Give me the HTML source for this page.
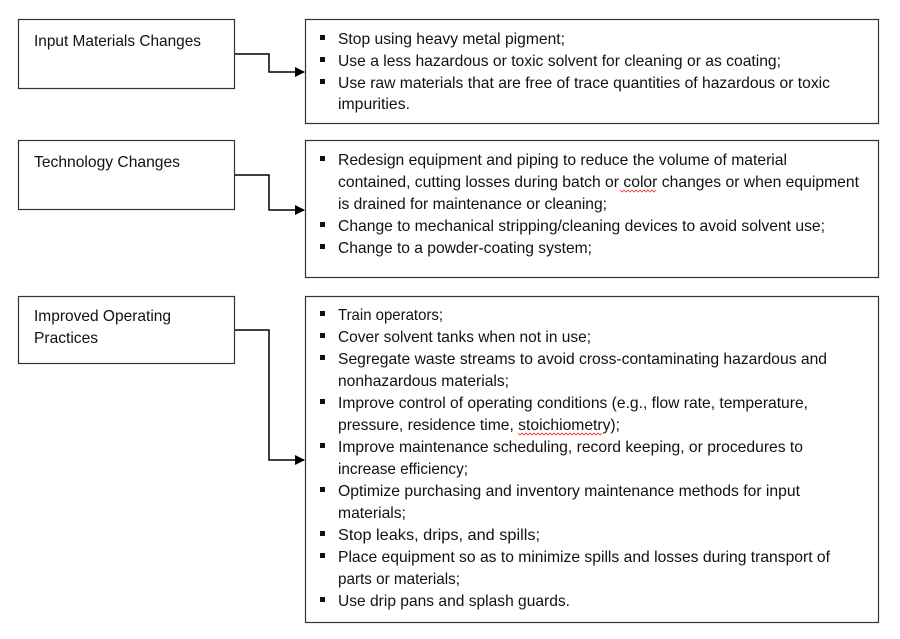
<!DOCTYPE html>
<html><head><meta charset="utf-8"><style>
html,body{margin:0;padding:0;background:#fff;}
svg{display:block;}
text{font-family:"Liberation Sans",Arial,sans-serif;font-size:16px;fill:#111;}
</style></head><body>
<svg width="900" height="639" viewBox="0 0 900 639" xmlns="http://www.w3.org/2000/svg">
<defs><marker id="a" markerWidth="10" markerHeight="10" refX="9" refY="5" orient="auto" markerUnits="userSpaceOnUse"><path d="M0,0 L10,5 L0,10 z" fill="#000"/></marker></defs>
<g fill="#fff" stroke="#333" stroke-width="1.2">
<rect x="18.5" y="19.5" width="216" height="69"/>
<rect x="18.5" y="140.5" width="216" height="69"/>
<rect x="18.5" y="296.5" width="216" height="67"/>
<rect x="305.5" y="19.5" width="573" height="104"/>
<rect x="305.5" y="140.5" width="573" height="137"/>
<rect x="305.5" y="296.5" width="573" height="326"/>
</g>
<g fill="none" stroke="#000" stroke-width="1.5">
<path d="M235,54 H269 V72 H304" marker-end="url(#a)"/>
<path d="M235,175 H269 V210 H304" marker-end="url(#a)"/>
<path d="M235,330 H269 V460 H304" marker-end="url(#a)"/>
</g>
<g>
<text x="34" y="46" textLength="167" lengthAdjust="spacingAndGlyphs">Input Materials Changes</text>
<text x="34" y="167" textLength="146" lengthAdjust="spacingAndGlyphs">Technology Changes</text>
<text x="34" y="321" textLength="137" lengthAdjust="spacingAndGlyphs">Improved Operating</text>
<text x="34" y="343" textLength="64" lengthAdjust="spacingAndGlyphs">Practices</text>
</g>
<g fill="#111">
<rect x="320" y="35" width="5" height="5"/><rect x="320" y="57" width="5" height="5"/><rect x="320" y="79" width="5" height="5"/>
<rect x="320" y="156" width="5" height="5"/><rect x="320" y="222" width="5" height="5"/><rect x="320" y="244" width="5" height="5"/>
<rect x="320" y="311" width="5" height="5"/><rect x="320" y="333" width="5" height="5"/><rect x="320" y="355" width="5" height="5"/>
<rect x="320" y="399" width="5" height="5"/><rect x="320" y="443" width="5" height="5"/><rect x="320" y="487" width="5" height="5"/>
<rect x="320" y="531" width="5" height="5"/><rect x="320" y="553" width="5" height="5"/><rect x="320" y="597" width="5" height="5"/>
</g>
<g>
<text x="338" y="44" textLength="227" lengthAdjust="spacingAndGlyphs">Stop using heavy metal pigment;</text>
<text x="338" y="66" textLength="443" lengthAdjust="spacingAndGlyphs">Use a less hazardous or toxic solvent for cleaning or as coating;</text>
<text x="338" y="88" textLength="492" lengthAdjust="spacingAndGlyphs">Use raw materials that are free of trace quantities of hazardous or toxic</text>
<text x="338" y="109" textLength="72" lengthAdjust="spacingAndGlyphs">impurities.</text>

<text x="338" y="165" textLength="449" lengthAdjust="spacingAndGlyphs">Redesign equipment and piping to reduce the volume of material</text>
<text x="338" y="187" textLength="521" lengthAdjust="spacingAndGlyphs">contained, cutting losses during batch or color changes or when equipment</text>
<text x="338" y="209" textLength="269" lengthAdjust="spacingAndGlyphs">is drained for maintenance or cleaning;</text>
<text x="338" y="231" textLength="487" lengthAdjust="spacingAndGlyphs">Change to mechanical stripping/cleaning devices to avoid solvent use;</text>
<text x="338" y="253" textLength="254" lengthAdjust="spacingAndGlyphs">Change to a powder-coating system;</text>

<text x="338" y="320" textLength="105" lengthAdjust="spacingAndGlyphs">Train operators;</text>
<text x="338" y="342" textLength="253" lengthAdjust="spacingAndGlyphs">Cover solvent tanks when not in use;</text>
<text x="338" y="364" textLength="489" lengthAdjust="spacingAndGlyphs">Segregate waste streams to avoid cross-contaminating hazardous and</text>
<text x="338" y="386" textLength="171" lengthAdjust="spacingAndGlyphs">nonhazardous materials;</text>
<text x="338" y="408" textLength="470" lengthAdjust="spacingAndGlyphs">Improve control of operating conditions (e.g., flow rate, temperature,</text>
<text x="338" y="430" textLength="282" lengthAdjust="spacingAndGlyphs">pressure, residence time, stoichiometry);</text>
<text x="338" y="452" textLength="465" lengthAdjust="spacingAndGlyphs">Improve maintenance scheduling, record keeping, or procedures to</text>
<text x="338" y="474" textLength="130" lengthAdjust="spacingAndGlyphs">increase efficiency;</text>
<text x="338" y="496" textLength="462" lengthAdjust="spacingAndGlyphs">Optimize purchasing and inventory maintenance methods for input</text>
<text x="338" y="518" textLength="68" lengthAdjust="spacingAndGlyphs">materials;</text>
<text x="338" y="540" textLength="202" lengthAdjust="spacingAndGlyphs">Stop leaks, drips, and spills;</text>
<text x="338" y="562" textLength="492" lengthAdjust="spacingAndGlyphs">Place equipment so as to minimize spills and losses during transport of</text>
<text x="338" y="584" textLength="122" lengthAdjust="spacingAndGlyphs">parts or materials;</text>
<text x="338" y="606" textLength="232" lengthAdjust="spacingAndGlyphs">Use drip pans and splash guards.</text>
</g>
<g fill="none" stroke="#e33" stroke-width="0.8">
<path d="M620,190 l2,2 l2,-2 l2,2 l2,-2 l2,2 l2,-2 l2,2 l2,-2 l2,2 l2,-2 l2,2 l2,-2 l2,2 l2,-2 l2,2 l2,-2 l2,2 l2,-2"/>
<path d="M518,433 l2,2 l2,-2 l2,2 l2,-2 l2,2 l2,-2 l2,2 l2,-2 l2,2 l2,-2 l2,2 l2,-2 l2,2 l2,-2 l2,2 l2,-2 l2,2 l2,-2 l2,2 l2,-2 l2,2 l2,-2 l2,2 l2,-2 l2,2 l2,-2 l2,2 l2,-2 l2,2 l2,-2 l2,2 l2,-2 l2,2 l2,-2 l2,2 l2,-2 l2,2 l2,-2 l2,2 l2,-2 l2,2 l2,-2"/>
</g>
</svg>
</body></html>
